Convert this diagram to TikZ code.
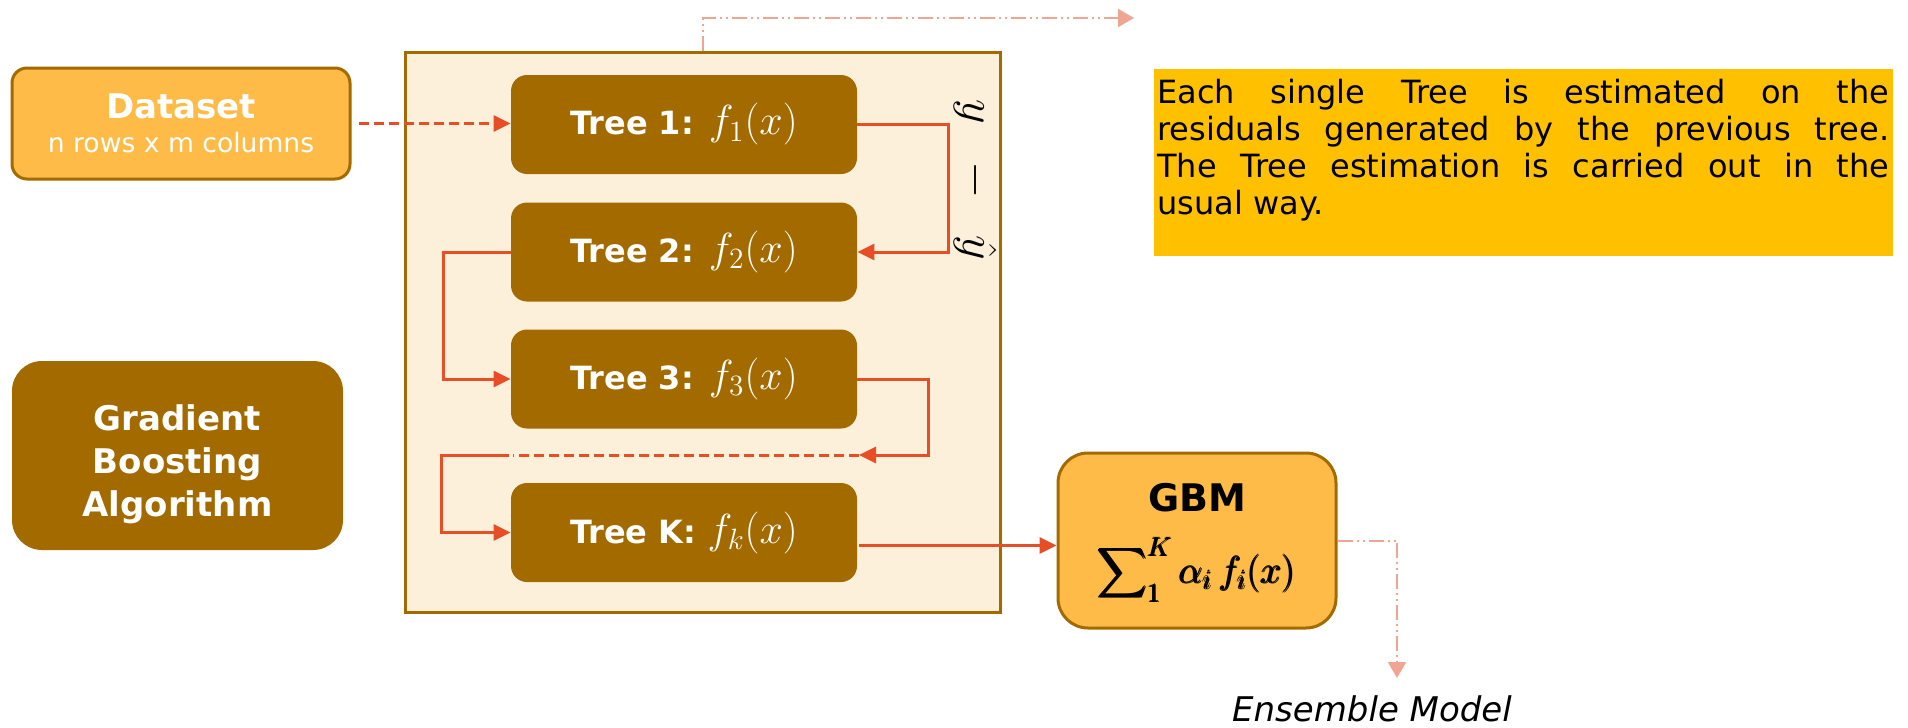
\RequirePackage{fix-cm}
\documentclass[tikz,border=0pt]{standalone}
\usepackage{amsmath}
\usepackage[no-math]{fontspec}
\setmainfont{DejaVu Sans}
\usetikzlibrary{arrows.meta,calc}

\definecolor{gold}{HTML}{A36A00}
\definecolor{lightorange}{HTML}{FFBB47}
\definecolor{cream}{HTML}{FDF0DB}
\definecolor{arrowred}{HTML}{E84E26}
\definecolor{noteyellow}{HTML}{FFC000}
\definecolor{salmon}{HTML}{F0A592}

\newcommand{\treemath}[1]{{\fontsize{21}{21}\selectfont$#1$}}

\begin{document}
\begin{tikzpicture}[x=0.5pt,y=-0.5pt,
  treebox/.style={rectangle, rounded corners=8pt, fill=gold, text=white,
    minimum width=173pt, minimum height=49.5pt, inner sep=0pt,
    font=\fontsize{16}{19}\selectfont\bfseries},
  redline/.style={draw=arrowred, line width=1.5pt},
  redarrow/.style={redline, -{Triangle[length=8.5pt,width=8pt]}},
  reddash/.style={dash pattern=on 5pt off 2.5pt},
  salmonline/.style={draw=salmon, line width=1pt,
    dash pattern=on 7.5pt off 2pt on 1pt off 2pt on 1pt off 2pt,
    -{Triangle[length=8pt,width=9pt]}},
]
\useasboundingbox[fill=white] (0,0) rectangle (1908,728);

% container
\node[draw=gold, line width=1.5pt, fill=cream, minimum width=297.5pt,
      minimum height=280pt, inner sep=0pt] (frame) at (702.5,332) {};

% dataset
\node[draw=gold, line width=1.5pt, fill=lightorange, rounded corners=7.5pt,
      minimum width=169pt, minimum height=55.5pt, inner sep=0pt, text=white,
      align=center, font=\fontsize{13.3}{17}\selectfont] (dataset) at (181,123.5)
      {{\fontsize{17}{17}\selectfont\bfseries Dataset}\\ n rows x m columns};

% gradient boosting
\node[fill=gold, rounded corners=15pt, minimum width=165.5pt, minimum height=94.5pt,
      inner sep=0pt] (gba) at (177.5,455.5) {};
\node[text=white, align=center, inner sep=0pt,
      font=\fontsize{17}{21.5}\selectfont\bfseries] (gbatext) at (177.5,464)
      {Gradient\\Boosting\\Algorithm};

% trees
\node[treebox] (tree1) at (684,124.5) {Tree 1: \treemath{f_1(x)}};
\node[treebox] (tree2) at (684,252) {Tree 2: \treemath{f_2(x)}};
\node[treebox] (tree3) at (684,379) {Tree 3: \treemath{f_3(x)}};
\node[treebox] (treeK) at (684,532.5) {Tree K: \treemath{f_k(x)}};

% residual label
\node[rotate=-90, font=\fontsize{24}{24}\selectfont, inner sep=0pt] (resid) at (975,180)
      {$y\hspace{0.55em}-\hspace{0.55em}\hat{y}$};

% GBM
\node[draw=gold, line width=1.5pt, fill=lightorange, rounded corners=15pt,
      minimum width=139pt, minimum height=87.5pt, inner sep=0pt] (gbm) at (1197,540.5) {};
\node[font=\fontsize{19}{19}\selectfont\bfseries, inner sep=0pt] (gbmtitle) at (1197,498) {GBM};
\node[font=\fontsize{19}{19}\selectfont, inner sep=0pt] (gbmformula) at (1197,570)
      {$\displaystyle\pmb{\sum\nolimits_{1}^{K}\alpha_i\,f_i(x)}$};

% note
\node[fill=noteyellow, minimum width=369.5pt, minimum height=93.5pt, inner sep=0pt]
      (note) at (1523.5,162.5) {};
\node[anchor=north west, text width=366pt, align=justify, inner sep=0pt,
      font=\fontsize{16}{18.5}\selectfont] (notetext) at (1157,79)
      {Each single Tree is estimated on the\linebreak
       residuals generated by the previous tree.\linebreak
       The Tree estimation is carried out in the\linebreak
       usual way.};

% ensemble label
\node[font=\fontsize{17}{18}\selectfont\itshape, inner sep=0pt] (ensemble) at (1372,709)
      {Ensemble Model};

% connectors
\draw[redarrow, reddash] ([xshift=3.5pt]dataset.east) -- (tree1.west |- dataset.east);
\draw[redarrow] (tree1.east) -- ++(91,0) |- (tree2.east);
\draw[redarrow] (tree2.west) -- ++(-67,0) |- (tree3.west);
\coordinate (dashR) at (859,455);
\coordinate (dashL) at (509,455);
\draw[redarrow] (tree3.east) -- ++(71,0) |- (dashR);
\draw[redline, reddash] (dashR) -- ([xshift=2pt]dashL);
\draw[redarrow] (dashL) -- ++(-68,0) |- (treeK.west);
\coordinate (kout) at ($(treeK.east)+(2,13)$);
\draw[redarrow] (kout) -- (kout -| gbm.west);

\coordinate (enstip) at (1397,678);
\draw[salmonline] (gbm.east) -| (enstip);
\coordinate (toptip) at (1134,18);
\draw[salmonline] (frame.north) |- (toptip);
\end{tikzpicture}
\end{document}
